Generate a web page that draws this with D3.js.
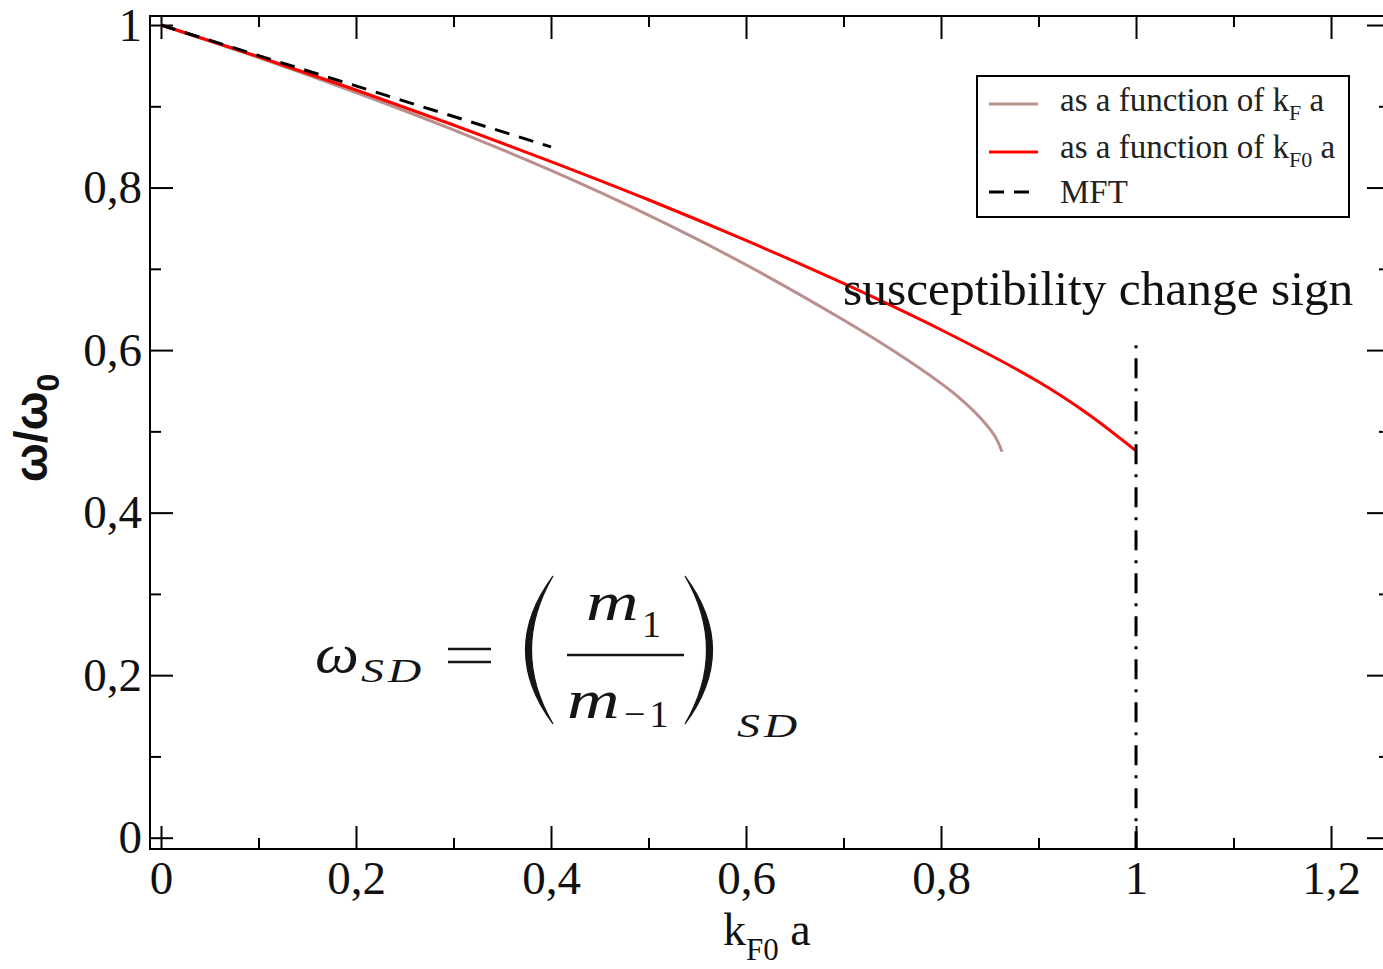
<!DOCTYPE html>
<html>
<head>
<meta charset="utf-8">
<script src="https://cdn.jsdelivr.net/npm/d3@7"></script>
<style>
  html, body { margin: 0; padding: 0; background: #fff; overflow: hidden; }
  svg { display: block; }
</style>
</head>
<body>
<svg id="chart" width="1383" height="969"></svg>
<script>
// ---------------- data ----------------
const kF0Values   = [0, 0.1, 0.2, 0.3, 0.4, 0.5, 0.6, 0.7, 0.8, 0.9, 0.95, 1.0];
const redOmega    = [1.0, 0.961, 0.920, 0.877, 0.832, 0.785, 0.735, 0.682, 0.625, 0.561, 0.522, 0.476];

const kFValues    = [0, 0.1, 0.2, 0.3, 0.4, 0.5, 0.6, 0.7, 0.75, 0.8, 0.82, 0.84, 0.855, 0.8626];
const brownOmega  = [1.0, 0.960, 0.917, 0.871, 0.821, 0.766, 0.705, 0.637, 0.600, 0.559, 0.540, 0.517, 0.4945, 0.475];

const mftX        = [0, 0.40];
const mftOmega    = [1.0, 0.85];

const signChangeX = 1.0;
const signChangeTop = 0.606;

const xMajorTicks = [0, 0.2, 0.4, 0.6, 0.8, 1.0, 1.2];
const xMinorTicks = [0.1, 0.3, 0.5, 0.7, 0.9, 1.1];
const yMajorTicks = [0, 0.2, 0.4, 0.6, 0.8, 1.0];
const yMinorTicks = [0.1, 0.3, 0.5, 0.7, 0.9];

const legendLabels = ["as a function of k", "as a function of k", "MFT"];
const legendSubs   = ["F", "F0", ""];

// ---------------- layout ----------------
const L = 150, R = 1390, T = 16, B = 849;
const svg = d3.select("#chart");

const x = d3.scaleLinear().domain([-0.01128, 1.2605]).range([L, R]);
const y = d3.scaleLinear().domain([-0.0139, 1.0111]).range([B, T]);

const fmt = d => String(+d.toFixed(1)).replace(".", ",");
const serif = "'Liberation Serif', 'Times New Roman', serif";

function styleAxis(g) {
  g.select(".domain").remove();
  g.selectAll(".tick line").attr("stroke", "#000").attr("stroke-width", 2);
  g.selectAll("text").attr("font-family", serif).attr("font-size", 47).attr("fill", "#111");
}

// bottom
svg.append("g").attr("transform", `translate(0,${B})`)
  .call(d3.axisBottom(x).tickValues(xMajorTicks).tickSizeInner(-23).tickSizeOuter(0).tickPadding(12).tickFormat(fmt))
  .call(styleAxis);
svg.append("g").attr("transform", `translate(0,${B})`)
  .call(d3.axisBottom(x).tickValues(xMinorTicks).tickSizeInner(-11).tickSizeOuter(0).tickFormat(""))
  .call(styleAxis);
// top
svg.append("g").attr("transform", `translate(0,${T})`)
  .call(d3.axisTop(x).tickValues(xMajorTicks).tickSizeInner(-23).tickSizeOuter(0).tickFormat(""))
  .call(styleAxis);
svg.append("g").attr("transform", `translate(0,${T})`)
  .call(d3.axisTop(x).tickValues(xMinorTicks).tickSizeInner(-11).tickSizeOuter(0).tickFormat(""))
  .call(styleAxis);
// left
svg.append("g").attr("transform", `translate(${L},0)`)
  .call(d3.axisLeft(y).tickValues(yMajorTicks).tickSizeInner(-23).tickSizeOuter(0).tickPadding(8).tickFormat(fmt))
  .call(styleAxis);
svg.append("g").attr("transform", `translate(${L},0)`)
  .call(d3.axisLeft(y).tickValues(yMinorTicks).tickSizeInner(-11).tickSizeOuter(0).tickFormat(""))
  .call(styleAxis);
// right
svg.append("g").attr("transform", `translate(${R},0)`)
  .call(d3.axisRight(y).tickValues(yMajorTicks).tickSizeInner(-23).tickSizeOuter(0).tickFormat(""))
  .call(styleAxis);
svg.append("g").attr("transform", `translate(${R},0)`)
  .call(d3.axisRight(y).tickValues(yMinorTicks).tickSizeInner(-11).tickSizeOuter(0).tickFormat(""))
  .call(styleAxis);

// frame
svg.append("rect").attr("x", L).attr("y", T).attr("width", R - L).attr("height", B - T)
  .attr("fill", "none").attr("stroke", "#000").attr("stroke-width", 2);

// ---------------- curves ----------------
const line = d3.line().x(d => x(d[0])).y(d => y(d[1])).curve(d3.curveCatmullRom.alpha(0.5));

svg.append("path").datum(kFValues.map((v, i) => [v, brownOmega[i]]))
  .attr("d", line).attr("fill", "none").attr("stroke", "#bc8f8f").attr("stroke-width", 3);

svg.append("path").datum(kF0Values.map((v, i) => [v, redOmega[i]]))
  .attr("d", line).attr("fill", "none").attr("stroke", "#ff0000").attr("stroke-width", 3);

svg.append("path").datum(mftX.map((v, i) => [v, mftOmega[i]]))
  .attr("d", d3.line().x(d => x(d[0])).y(d => y(d[1])))
  .attr("fill", "none").attr("stroke", "#000").attr("stroke-width", 3)
  .attr("stroke-dasharray", "15,10");

svg.append("line")
  .attr("x1", x(signChangeX)).attr("x2", x(signChangeX))
  .attr("y1", y(signChangeTop)).attr("y2", B)
  .attr("stroke", "#000").attr("stroke-width", 3)
  .attr("stroke-dasharray", "3,10,20,10");

// ---------------- annotations ----------------
svg.append("text").attr("x", 843).attr("y", 305)
  .attr("font-family", serif).attr("font-size", 49.4).attr("fill", "#111")
  .text("susceptibility change sign");

// axis titles
const xt = svg.append("text").attr("x", 723).attr("y", 945)
  .attr("font-family", serif).attr("font-size", 46).attr("fill", "#111");
xt.append("tspan").text("k");
xt.append("tspan").attr("dy", 15).attr("font-size", 31).text("F0");
xt.append("tspan").attr("dy", -15).text(" a");

const yt = svg.append("text").attr("transform", "translate(47,482) rotate(-90)")
  .attr("font-family", "'Liberation Sans', Arial, sans-serif").attr("font-weight", "bold")
  .attr("font-size", 46).attr("fill", "#111");
yt.append("tspan").text("ω/ω");
yt.append("tspan").attr("dy", 12).attr("font-size", 32).text("0");

// ---------------- legend ----------------
const lg = svg.append("g");
lg.append("rect").attr("x", 977).attr("y", 76).attr("width", 372).attr("height", 141)
  .attr("fill", "#fff").attr("stroke", "#000").attr("stroke-width", 2);
const legendColors = ["#bc8f8f", "#ff0000", "#000"];
const legendDash = [null, null, "15,10"];
const legendLineY = [104, 152, 192];
const legendTextY = [111, 158, 203];
legendLabels.forEach((lab, i) => {
  lg.append("line").attr("x1", 989).attr("x2", 1038)
    .attr("y1", legendLineY[i]).attr("y2", legendLineY[i])
    .attr("stroke", legendColors[i]).attr("stroke-width", 3)
    .attr("stroke-dasharray", legendDash[i]);
  const t = lg.append("text").attr("x", 1060).attr("y", legendTextY[i])
    .attr("font-family", serif).attr("font-size", 33).attr("fill", "#222");
  t.append("tspan").text(lab);
  if (legendSubs[i]) {
    t.append("tspan").attr("dy", 9).attr("font-size", 22).text(legendSubs[i]);
    t.append("tspan").attr("dy", -9).text(" a");
  }
});

// ---------------- formula ----------------
const fg = svg.append("g").attr("font-family", serif).attr("fill", "#151515");
function ftext(str, px, py, size, sx, italic, spacing) {
  fg.append("text").attr("transform", `translate(${px},${py}) scale(${sx},1)`)
    .attr("font-size", size).attr("font-style", italic ? "italic" : "normal")
    .attr("letter-spacing", spacing || 0).text(str);
}
ftext("ω", 315, 672, 54, 1.15, true);
ftext("SD", 361, 682, 34, 1.35, true, 3);
fg.append("line").attr("x1", 448).attr("x2", 491).attr("y1", 649).attr("y2", 649).attr("stroke", "#151515").attr("stroke-width", 2.5);
fg.append("line").attr("x1", 448).attr("x2", 491).attr("y1", 662).attr("y2", 662).attr("stroke", "#151515").attr("stroke-width", 2.5);
// big parentheses
fg.append("path").attr("d", "M553,576 Q498,650 553,724 Q510,650 553,576 Z").attr("fill", "#151515").attr("stroke", "#151515").attr("stroke-width", 1.2);
fg.append("path").attr("d", "M685,576 Q740,650 685,724 Q728,650 685,576 Z").attr("fill", "#151515").attr("stroke", "#151515").attr("stroke-width", 1.2);
fg.append("line").attr("x1", 567).attr("x2", 684).attr("y1", 655).attr("y2", 655).attr("stroke", "#151515").attr("stroke-width", 2.5);
ftext("m", 586, 620, 54, 1.35, true);
ftext("1", 642, 637, 38, 1, false);
ftext("m", 567, 718, 54, 1.35, true);
ftext("−1", 624, 727, 38, 1, false, 4);
ftext("SD", 737, 737, 34, 1.35, true, 3);
</script>
</body>
</html>
